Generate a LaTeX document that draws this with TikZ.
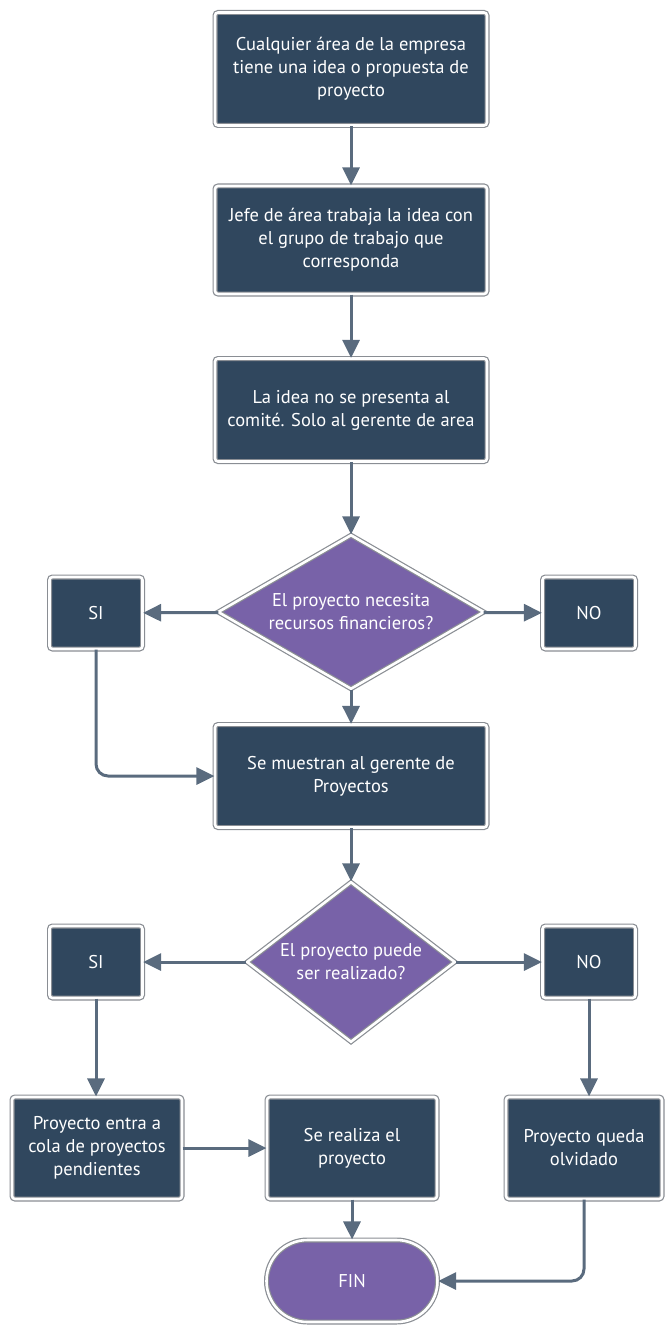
\documentclass[tikz,border=0pt]{standalone}
\usepackage{fontspec}
\setmainfont{PT Sans}
\usetikzlibrary{shapes.geometric,arrows.meta}
\definecolor{boxc}{HTML}{30475E}
\definecolor{purp}{HTML}{7862A8}
\definecolor{framec}{HTML}{8A8E94}
\definecolor{arrc}{HTML}{5A6B7E}
\tikzset{
  base/.style={draw=framec, line width=1.2pt, double=white, double distance=2.6pt,
    text=white, align=center, font=\fontsize{18.5}{23}\selectfont, inner sep=0pt},
  boxst/.style={base, rectangle, fill=boxc, rounded corners=3pt},
  diast/.style={base, diamond, fill=purp},
  finst/.style={base, rectangle, fill=purp, rounded corners=41pt},
  arr/.style={draw=arrc, line width=3pt, -{Triangle[length=18pt,width=17pt]}},
}
\begin{document}
\begin{tikzpicture}[x=1pt,y=-1pt]
\useasboundingbox (0,0) rectangle (666,1332);
\node[boxst, minimum width=272, minimum height=113] (b1) at (351,69)
  {Cualquier área de la empresa\\tiene una idea o propuesta de\\proyecto};
\node[boxst, minimum width=272, minimum height=108] (b2) at (351,240)
  {Jefe de área trabaja la idea con\\el grupo de trabajo que\\corresponda};
\node[boxst, minimum width=272, minimum height=103] (b3) at (351,410)
  {La idea no se presenta al\\comité. Solo al gerente de area};
\node[diast, aspect=1.7, minimum width=266, minimum height=154] (d1) at (351,612)
  {El proyecto necesita\\recursos financieros?};
\node[boxst, minimum width=93, minimum height=72] (si1) at (96,613) {SI};
\node[boxst, minimum width=93, minimum height=72] (no1) at (589,613) {NO};
\node[boxst, minimum width=272, minimum height=103] (b4) at (351,776)
  {Se muestran al gerente de\\Proyectos};
\node[diast, aspect=1.3, minimum width=208, minimum height=160] (d2) at (351,962)
  {El proyecto puede\\ser realizado?};
\node[boxst, minimum width=93, minimum height=72] (si2) at (96,962) {SI};
\node[boxst, minimum width=93, minimum height=72] (no2) at (589,962) {NO};
\node[boxst, minimum width=170, minimum height=102] (b5) at (97,1148)
  {Proyecto entra a\\cola de proyectos\\pendientes};
\node[boxst, minimum width=170, minimum height=102] (b6) at (352,1148)
  {Se realiza el\\proyecto};
\node[boxst, minimum width=156, minimum height=102] (b7) at (584,1148)
  {Proyecto queda\\olvidado};
\node[finst, minimum width=171, minimum height=82] (fin) at (352,1281) {FIN};
\draw[arr] (b1) -- (b2);
\draw[arr] (b2) -- (b3);
\draw[arr] (b3) -- (d1);
\draw[arr] (d1) -- (si1);
\draw[arr] (d1) -- (no1);
\draw[arr] (d1) -- (b4);
\draw[arr, rounded corners=12pt] (si1.south) |- (b4.west);
\draw[arr] (b4) -- (d2);
\draw[arr] (d2) -- (si2);
\draw[arr] (d2) -- (no2);
\draw[arr] (si2.south) -- (si2.south |- b5.north);
\draw[arr] (no2.south) -- (no2.south |- b7.north);
\draw[arr] (b5) -- (b6);
\draw[arr] (b6) -- (fin);
\draw[arr, rounded corners=12pt] (b7.south) |- (fin.east);
\end{tikzpicture}
\end{document}
